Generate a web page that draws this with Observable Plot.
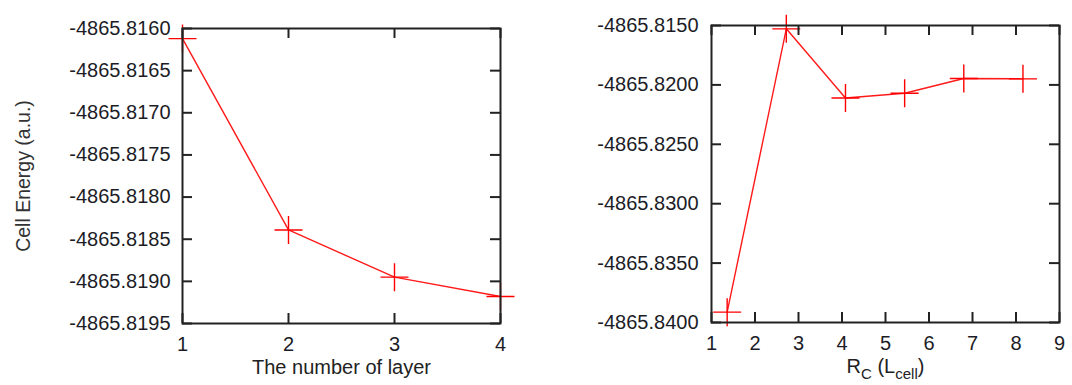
<!DOCTYPE html>
<html><head><meta charset="utf-8">
<script src="https://cdn.jsdelivr.net/npm/d3@7"></script>
<script src="https://cdn.jsdelivr.net/npm/@observablehq/plot@0.6"></script>
<style>
body{margin:0;background:#fff;}
#wrap{position:relative;width:1072px;height:385px;overflow:hidden;background:#fff;}
#left,#right{position:absolute;top:0;}
#left{left:0}#right{left:540px}
svg{overflow:visible}
</style></head><body><div id="wrap"><div id="left"></div><div id="right"></div></div>
<script>
// ---- data ----
const layers = [1, 2, 3, 4];
const energyLayers = [-4865.81612, -4865.81839, -4865.81895, -4865.81918];
const rc = [1.36, 2.72, 4.08, 5.44, 6.80, 8.16];
const energyRc = [-4865.83913, -4865.81528, -4865.82110, -4865.82070, -4865.81946, -4865.81949];

const xTicksLeft = [1, 2, 3, 4];
const yTicksLeft = [-4865.8160, -4865.8165, -4865.8170, -4865.8175, -4865.8180, -4865.8185, -4865.8190, -4865.8195];
const xTicksRight = [1, 2, 3, 4, 5, 6, 7, 8, 9];
const yTicksRight = [-4865.8150, -4865.8200, -4865.8250, -4865.8300, -4865.8350, -4865.8400];

const plusSymbol = {
  draw(ctx, size) {
    const r = Math.sqrt(size / Math.PI);
    ctx.moveTo(-r, 0); ctx.lineTo(r, 0);
    ctx.moveTo(0, -r); ctx.lineTo(0, r);
  }
};

function panel({xs, ys, xDomain, yDomain, xTicks, yTicks, width, height, mL, mR, mT, mB, xLabel, yLabel, tickPadY}) {
  const innerW = width - mL - mR, innerH = height - mT - mB;
  const data = xs.map((x, i) => ({x, y: ys[i]}));
  const axisColor = "#222";
  const marks = [
    Plot.line(data, {x: "x", y: "y", stroke: "#ff1a1a", strokeWidth: 1.4}),
    Plot.dot(data, {x: "x", y: "y", symbol: plusSymbol, r: 14, stroke: "#ff0000", fill: "none", strokeWidth: 1.4}),
    Plot.frame({stroke: axisColor, strokeWidth: 2}),
    Plot.tickY(yTicks, {y: d => d, insetRight: innerW - 10, stroke: axisColor, strokeWidth: 2}),
    Plot.tickY(yTicks, {y: d => d, insetLeft: innerW - 10, stroke: axisColor, strokeWidth: 2}),
    Plot.tickX(xTicks, {x: d => d, insetTop: innerH - 10, stroke: axisColor, strokeWidth: 2}),
    Plot.tickX(xTicks, {x: d => d, insetBottom: innerH - 10, stroke: axisColor, strokeWidth: 2}),
    Plot.axisY({ticks: yTicks, tickSize: 0, tickPadding: tickPadY, tickFormat: d => d.toFixed(4), label: null, fill: "#1c1c26"}),
    Plot.axisX({ticks: xTicks, tickSize: 0, tickPadding: 13, tickFormat: d => String(d), label: null, fill: "#1c1c26"}),
    Plot.text([xLabel], {text: d => d, frameAnchor: "bottom", textAnchor: "middle", dy: 50, fill: "#222"})
  ];
  if (yLabel) marks.push(Plot.text([yLabel], {text: d => d, frameAnchor: "left", textAnchor: "middle", rotate: -90, dx: -159, fill: "#333", fontSize: 19.5}));
  return Plot.plot({
    width, height,
    marginLeft: mL, marginRight: mR, marginTop: mT, marginBottom: mB,
    x: {domain: xDomain, label: null},
    y: {domain: yDomain, label: null},
    style: {fontSize: "20px", fontFamily: "'Liberation Sans', Arial, sans-serif", background: "white", overflow: "visible"},
    marks
  });
}

const left = panel({
  xs: layers, ys: energyLayers, xDomain: [1, 4], yDomain: [-4865.8195, -4865.8160],
  xTicks: xTicksLeft, yTicks: yTicksLeft, width: 540, height: 385,
  mL: 182, mR: 40, mT: 28, mB: 62, xLabel: "The number of layer", yLabel: "Cell Energy (a.u.)", tickPadY: 12
});
document.getElementById("left").appendChild(left);

const right = panel({
  xs: rc, ys: energyRc, xDomain: [1, 9], yDomain: [-4865.8400, -4865.8150],
  xTicks: xTicksRight, yTicks: yTicksRight, width: 532, height: 385,
  mL: 171, mR: 13, mT: 25, mB: 63, xLabel: "RC (Lcell)", yLabel: null, tickPadY: 13
});
document.getElementById("right").appendChild(right);

right.querySelectorAll("text").forEach(t => {
  if (t.textContent === "RC (Lcell)") {
    t.innerHTML = 'R<tspan font-size="15" dy="6">C</tspan><tspan dy="-6"> (L</tspan><tspan font-size="15" dy="6">cell</tspan><tspan dy="-6">)</tspan>';
  }
});
</script></body></html>
